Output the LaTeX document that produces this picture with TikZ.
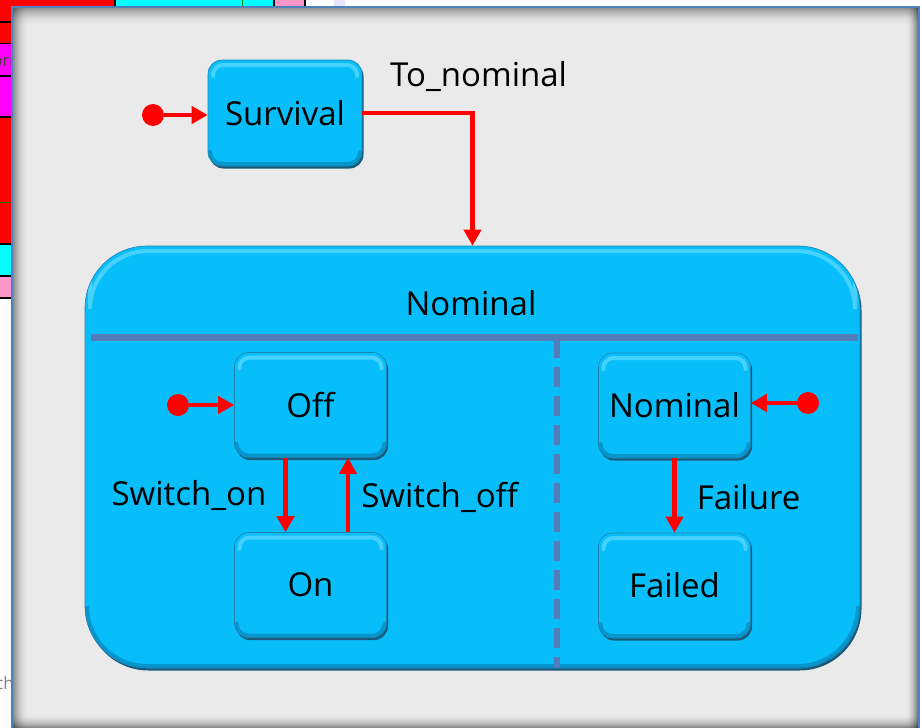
\documentclass[tikz,border=0pt]{standalone}
\usepackage{fontspec}
\setmainfont{Open Sans}
\usetikzlibrary{arrows.meta,shadows}
\definecolor{boxblue}{RGB}{8,190,250}
\definecolor{boxedge}{RGB}{30,130,175}
\definecolor{boxshadow}{RGB}{25,90,125}
\definecolor{hilite}{RGB}{70,210,255}
\definecolor{lowband}{RGB}{5,150,205}
\definecolor{divcol}{RGB}{84,124,184}
\definecolor{panel}{RGB}{234,234,234}
\definecolor{framecol}{RGB}{79,129,189}
\definecolor{cellred}{RGB}{255,0,0}
\definecolor{cellmag}{RGB}{255,0,255}
\definecolor{cellcyan}{RGB}{0,255,255}
\definecolor{cellpink}{RGB}{250,150,200}
\newcommand\txtbig{\fontsize{33}{38}\selectfont}
\begin{document}
\begin{tikzpicture}[x=1pt,y=-1pt,
  statebox/.style={draw=boxedge, line width=0.6pt, fill=boxblue, rounded corners=#1, inner sep=0pt, font=\txtbig,
    drop shadow={shadow xshift=1.5pt, shadow yshift=-2.5pt, fill=boxshadow, opacity=1},
    path picture={
      \draw[hilite, line width=4pt, rounded corners=#1-4pt, line cap=round]
        ([xshift=5pt,yshift=-16pt]path picture bounding box.north west) |- ([yshift=-5pt]path picture bounding box.north)
        -| ([xshift=-5pt,yshift=-16pt]path picture bounding box.north east);
      \draw[lowband, line width=4pt, rounded corners=#1-2pt, line cap=round]
        ([xshift=2pt,yshift=14pt]path picture bounding box.south west) |- ([yshift=2pt]path picture bounding box.south)
        -| ([xshift=-2pt,yshift=14pt]path picture bounding box.south east);
    }},
  smallstate/.style={statebox=14pt, minimum width=152pt, minimum height=105pt},
  trans/.style={draw=red, line width=4.5pt, -{Triangle[length=16pt,width=17pt]}},
  initdot/.style={circle, fill=red, minimum size=22pt, inner sep=0pt},
  lbl/.style={font=\txtbig, inner sep=0pt},
  divider/.style={draw=divcol, line width=7pt},
  gridline/.style={draw=black, line width=1.2pt}
]
\useasboundingbox (0,0) rectangle (922,728);
\clip (0,0) rectangle (922,728);
\fill[white] (0,0) rectangle (922,728);
% left strip of cells
\fill[cellred] (0,0) rectangle (12,43);
\fill[cellmag] (0,43) rectangle (12,117);
\fill[cellred] (0,117) rectangle (12,244);
\fill[cellcyan] (0,244) rectangle (12,276);
\fill[cellpink] (0,276) rectangle (12,298);
\draw[gridline] (0,22) -- (12,22) (0,43.5) -- (12,43.5) (0,76) -- (12,76) (0,117) -- (12,117)
  (0,244) -- (12,244) (0,276) -- (12,276) (0,298) -- (12,298);
\draw[green!50!black, line width=1pt] (0,202) -- (12,202);
\node[anchor=east, inner sep=0pt, font=\fontsize{17}{19}\selectfont, text=black!80!magenta] (ori) at (14,60) {ori};
\node[anchor=east, inner sep=0pt, font=\fontsize{17}{19}\selectfont, text=gray] (chx) at (14,683) {ch};
% top strip of cells
\fill[cellred] (0,0) rectangle (115,8);
\fill[cellcyan] (115,0) rectangle (274,8);
\fill[cellpink] (274,0) rectangle (305,8);
\fill[black!15!blue!10] (334,0) rectangle (345,8);
\draw[gridline] (115,0) -- (115,8) (274,0) -- (274,8) (305,0) -- (305,8);
\draw[green!50!black, line width=1pt] (242,0) -- (242,8);
% frame
\fill[panel] (12,7) rectangle (919,740);
\foreach \i in {0,...,17}{\pgfmathsetmacro\op{0.36*(1-\i/18)^2}
  \fill[black,opacity=\op] (13,8+\i) rectangle (918,9+\i);}
\foreach \i in {0,...,15}{\pgfmathsetmacro\op{0.40*(1-\i/16)^2}
  \fill[black,opacity=\op] (13+\i,8) rectangle (14+\i,728);}
\foreach \i in {0,...,11}{\pgfmathsetmacro\op{0.45*(1-\i/12)^2}
  \fill[black,opacity=\op] (917-\i,8) rectangle (918-\i,728);}
\foreach \i in {0,...,13}{\pgfmathsetmacro\op{0.40*(1-\i/14)^2}
  \fill[black,opacity=\op] (13,727-\i) rectangle (918,728-\i);}
\draw[framecol, line width=1.5pt] (12,7) rectangle (919,740);
% composite state
\node[statebox=62pt, minimum width=775pt, minimum height=422pt] (nomc) at (472.5,457) {};
\node[lbl] (nomt) at (471,303) {Nominal};
\coordinate (divy) at (0,337.5);
\coordinate (vx) at (557,0);
\draw[divider, shorten <=6pt, shorten >=2pt] (nomc.west |- divy) -- (nomc.east |- divy);
\draw[divider, line width=6pt, dash pattern=on 20pt off 9pt] (vx |- divy) -- (vx |- nomc.south);
% simple states
\node[statebox=14pt, minimum width=154pt, minimum height=106pt] (surv) at (285,113) {Survival};
\node[smallstate] (off) at (310.5,405) {Off};
\node[smallstate] (on) at (310.5,585) {On};
\node[smallstate] (nom2) at (674.5,405.5) {Nominal};
\node[smallstate] (fail) at (674.5,585.5) {Failed};
% initial states
\node[initdot] (i1) at (153,115) {};
\node[initdot] (i2) at (178,405) {};
\node[initdot] (i3) at (808,403) {};
\draw[trans] (i1) -- (i1 -| surv.west);
\draw[trans] (i2) -- (i2 -| off.west);
\draw[trans] (i3) -- (i3 -| nom2.east);
% transitions
\draw[trans] (surv.east) -| (nomc.north);
\node[lbl, anchor=west] (tonom) at (390,77) {To\_nominal};
\draw[trans] ([xshift=-25pt]off.south) -- ([xshift=-25pt]on.north)
  node[lbl, midway, left=17pt] (swon) {Switch\_on};
\draw[trans] ([xshift=37.5pt]on.north) -- ([xshift=37.5pt]off.south)
  node[lbl, midway, right=11pt, yshift=-2pt] (swoff) {Switch\_off};
\draw[trans] (nom2.south) -- (fail.north)
  node[lbl, midway, right=20pt, yshift=-2pt] (failure) {Failure};
\end{tikzpicture}
\end{document}
